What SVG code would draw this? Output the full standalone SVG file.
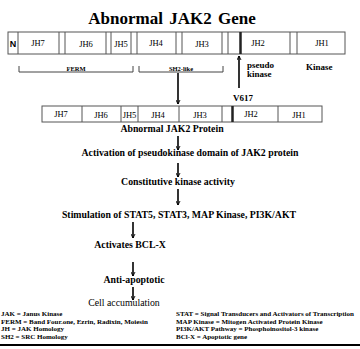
<svg xmlns="http://www.w3.org/2000/svg" width="360" height="349" viewBox="0 0 360 349">
<style>
text{font-family:'Liberation Serif','Times New Roman',serif;fill:#000}
.b{font-weight:bold}
.lbl{font-size:8.5px;text-anchor:middle}
.step{font-size:9.8px;font-weight:bold;text-anchor:middle}
.leg{font-size:7px;font-weight:bold}
.dom{font-size:9px;font-weight:bold}
.box{fill:#fff;stroke:#555;stroke-width:1}
.div{stroke:#555;stroke-width:1}
.thick{stroke:#222;stroke-width:2.5}
.conn{stroke:#000;stroke-width:1.6;fill:none}
.br{stroke:#444;stroke-width:1;fill:none}
</style>
<defs>
<marker id="ah" viewBox="0 0 10 10" refX="9" refY="5" markerWidth="5" markerHeight="5" orient="auto" markerUnits="userSpaceOnUse">
<path d="M1,1 L9,5 L1,9" fill="none" stroke="#000" stroke-width="1.8"/>
</marker>
</defs>
<rect width="360" height="349" fill="#fff"/>
<text id="title" class="b" x="172" y="24" font-size="17" text-anchor="middle" word-spacing="2">Abnormal JAK2 Gene</text>

<g id="gene">
<rect class="box" x="8" y="32" width="337" height="22"/>
<g class="div">
<line x1="18" y1="32" x2="18" y2="54"/><line x1="59" y1="32" x2="59" y2="54"/><line x1="65" y1="32" x2="65" y2="54"/>
<line x1="106" y1="32" x2="106" y2="54"/><line x1="111" y1="32" x2="111" y2="54"/><line x1="131" y1="32" x2="131" y2="54"/>
<line x1="137" y1="32" x2="137" y2="54"/><line x1="176" y1="32" x2="176" y2="54"/><line x1="182" y1="32" x2="182" y2="54"/>
<line x1="222" y1="32" x2="222" y2="54"/><line x1="228" y1="32" x2="228" y2="54"/><line x1="290" y1="32" x2="290" y2="54"/>
<line x1="297" y1="32" x2="297" y2="54"/>
</g>
<line class="thick" x1="240.5" y1="32" x2="240.5" y2="54"/>
<text x="13" y="47" font-size="9" font-weight="bold" text-anchor="middle" style="font-family:'Liberation Sans',Arial,sans-serif">N</text>
<text class="lbl" x="38" y="46">JH7</text>
<text class="lbl" x="86" y="47">JH6</text>
<text class="lbl" x="121" y="47">JH5</text>
<text class="lbl" x="156" y="46">JH4</text>
<text class="lbl" x="202" y="47">JH3</text>
<text class="lbl" x="258" y="46">JH2</text>
<text class="lbl" x="322" y="46">JH1</text>
</g>

<g id="domains">
<path class="br" d="M19,66 V72 H133 V66"/>
<text class="b" x="76" y="70.5" font-size="6.5" text-anchor="middle">FERM</text>
<path class="br" d="M139,66 V72 H223 V66"/>
<text class="b" x="181" y="70.5" font-size="6.5" text-anchor="middle">SH2-like</text>
<text class="dom" x="247" y="68">pseudo</text>
<text class="dom" x="247" y="77">kinase</text>
<text class="dom" x="306" y="70">Kinase</text>
<text class="dom" x="233" y="101" font-size="8.5">V617</text>
</g>

<g id="protein">
<rect class="box" x="42" y="106" width="280" height="16"/>
<g class="div">
<line x1="82" y1="106" x2="82" y2="122"/><line x1="121" y1="106" x2="121" y2="122"/><line x1="138" y1="106" x2="138" y2="122"/>
<line x1="179" y1="106" x2="179" y2="122"/><line x1="222" y1="106" x2="222" y2="122"/><line x1="278" y1="106" x2="278" y2="122"/>
</g>
<line class="thick" x1="232.5" y1="106" x2="232.5" y2="122"/>
<text class="lbl" x="61" y="117">JH7</text>
<text class="lbl" x="101" y="118">JH6</text>
<text class="lbl" x="129.5" y="118" font-size="8">JH5</text>
<text class="lbl" x="158" y="118">JH4</text>
<text class="lbl" x="200" y="118">JH3</text>
<text class="lbl" x="251" y="117">JH2</text>
<text class="lbl" x="299" y="118">JH1</text>
<text class="step" x="172" y="132">Abnormal JAK2 Protein</text>
</g>

<g id="step1"><text class="step" x="190" y="156">Activation of pseudokinase domain of JAK2 protein</text></g>
<g id="step2"><text class="step" x="178" y="185">Constitutive kinase activity</text></g>
<g id="step3"><text class="step" x="179" y="218">Stimulation of STAT5, STAT3, MAP Kinase, PI3K/AKT</text></g>
<g id="step4"><text class="step" x="130" y="248">Activates BCL-X</text></g>
<g id="step5"><text class="step" x="134" y="283">Anti-apoptotic</text></g>
<g id="step6"><text class="step" x="124" y="306" style="font-weight:normal">Cell accumulation</text></g>

<g id="connectors">
<line class="conn" x1="178" y1="73" x2="178" y2="104" marker-end="url(#ah)"/>
<line class="conn" x1="239" y1="88" x2="239" y2="56" marker-end="url(#ah)"/>
<line class="conn" x1="178" y1="136" x2="178" y2="150" marker-end="url(#ah)"/>
<line class="conn" x1="178" y1="163" x2="178" y2="177" marker-end="url(#ah)"/>
<line class="conn" x1="178" y1="189" x2="178" y2="205" marker-end="url(#ah)"/>
<line class="conn" x1="133" y1="222" x2="133" y2="238" marker-end="url(#ah)"/>
<line class="conn" x1="133" y1="262" x2="133" y2="276" marker-end="url(#ah)"/>
<line class="conn" x1="133" y1="287" x2="133" y2="300" marker-end="url(#ah)"/>
</g>

<g id="legend">
<text class="leg" x="1" y="316">JAK = Janus Kinase</text>
<text class="leg" x="1" y="323.5">FERM = Band Four.one, Ezrin, Radixin, Moiesin</text>
<text class="leg" x="1" y="331">JH = JAK Homology</text>
<text class="leg" x="1" y="338.5">SH2 = SRC Homology</text>
<text class="leg" x="176" y="316">STAT = Signal Transducers and Activators of Transcription</text>
<text class="leg" x="176" y="323.5">MAP Kinase = Mitogen Activated Protein Kinase</text>
<text class="leg" x="176" y="331">PI3K/AKT Pathway = Phosphoinositol-3 kinase</text>
<text class="leg" x="176" y="338.5">BCl-X = Apoptotic gene</text>
<line x1="0" y1="345" x2="360" y2="345" stroke="#000" stroke-width="2"/>
</g>
</svg>
